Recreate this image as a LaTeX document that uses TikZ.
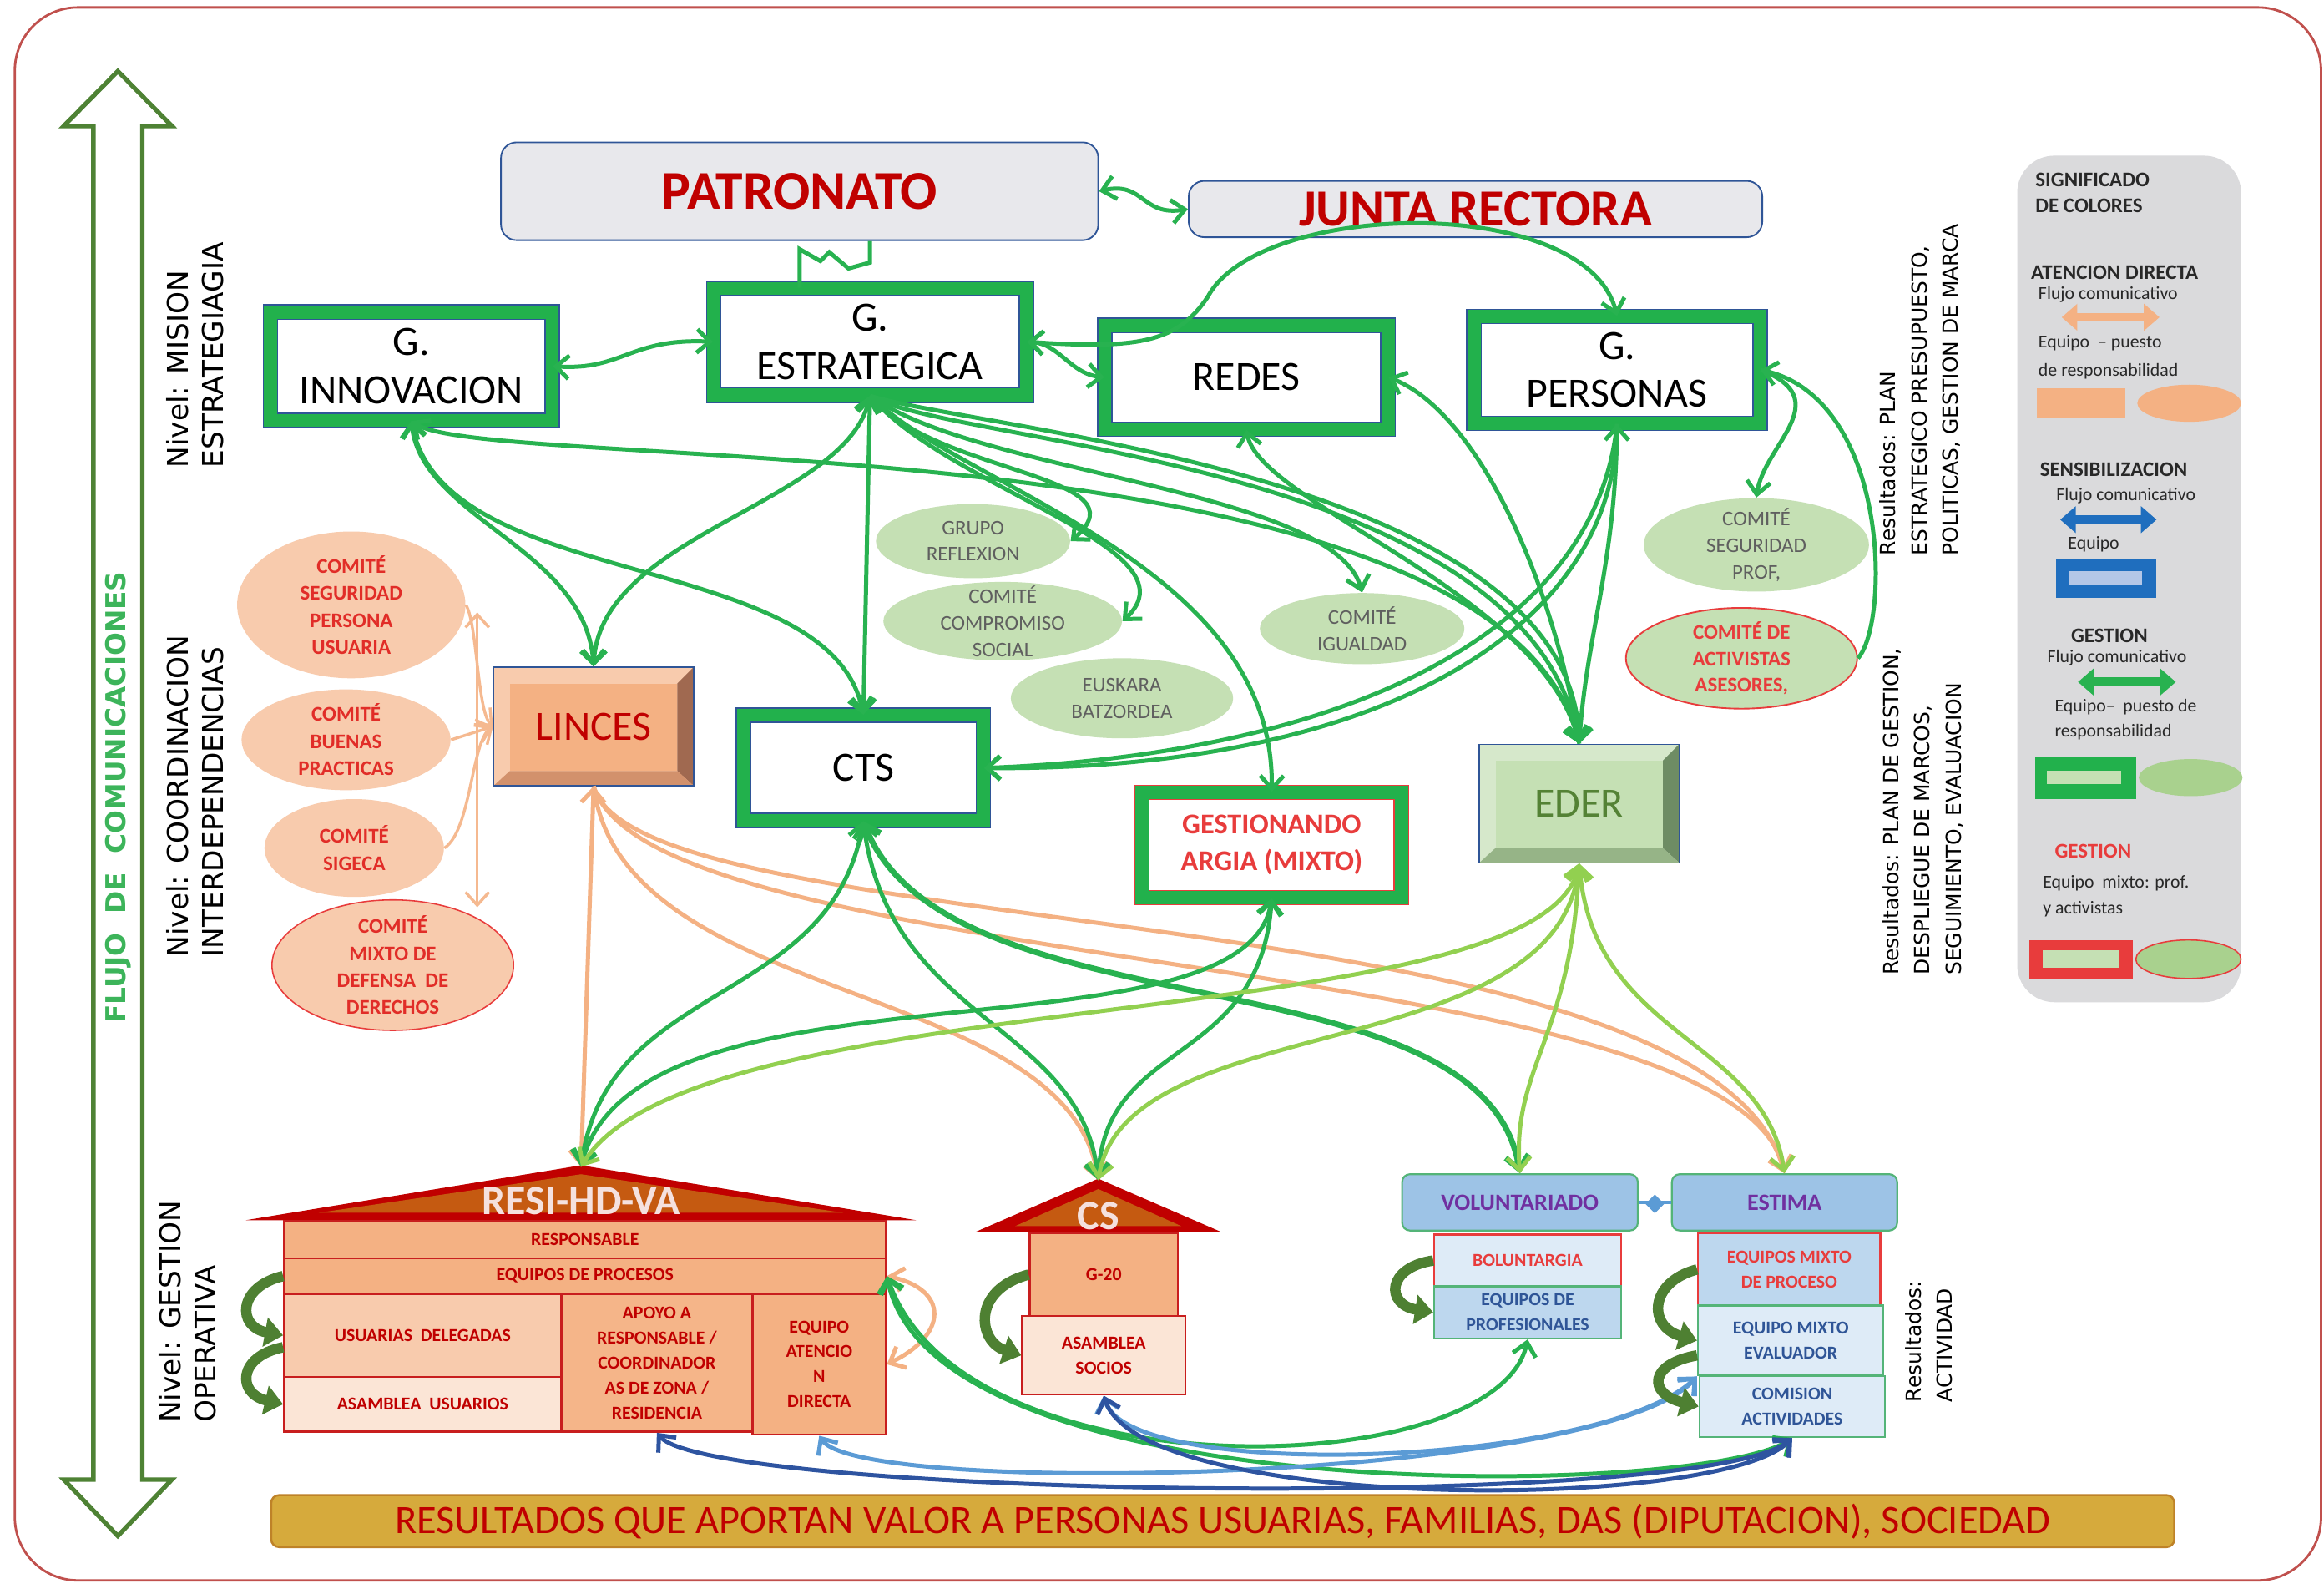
\documentclass[tikz,border=0pt]{standalone}
\usepackage{fontspec}
\setmainfont{Carlito}
\newfontfamily\lvlfont{DejaVu Sans}
\usetikzlibrary{arrows.meta,shapes.geometric,calc}

\definecolor{frameRed}{RGB}{192,80,77}
\definecolor{bandGreen}{RGB}{34,177,76}
\definecolor{boxBlue}{RGB}{47,85,151}
\definecolor{flowGreen}{RGB}{40,178,80}
\definecolor{darkGreen}{RGB}{78,128,50}
\definecolor{bigArrow}{RGB}{78,130,52}
\definecolor{flujoGreen}{RGB}{60,180,90}
\definecolor{titleRed}{RGB}{192,0,0}
\definecolor{topGray}{RGB}{232,232,236}
\definecolor{peach}{RGB}{248,203,173}
\definecolor{peachDark}{RGB}{244,177,131}
\definecolor{peachLight}{RGB}{251,229,214}
\definecolor{comRed}{RGB}{225,45,40}
\definecolor{argiaRed}{RGB}{232,60,60}
\definecolor{leaf}{RGB}{197,224,180}
\definecolor{leafText}{RGB}{95,95,95}
\definecolor{limeArrow}{RGB}{146,208,80}
\definecolor{roofBrown}{RGB}{197,90,17}
\definecolor{roofText}{RGB}{245,225,222}
\definecolor{cellRed}{RGB}{200,30,30}
\definecolor{skyBlue}{RGB}{157,195,230}
\definecolor{headGreen}{RGB}{84,180,120}
\definecolor{paleBlue}{RGB}{222,235,247}
\definecolor{midBlue}{RGB}{189,215,238}
\definecolor{navyText}{RGB}{47,85,151}
\definecolor{purpleT}{RGB}{112,48,160}
\definecolor{gold}{RGB}{214,170,60}
\definecolor{goldEdge}{RGB}{190,130,40}
\definecolor{legendGray}{RGB}{218,218,220}
\definecolor{legText}{RGB}{40,40,40}
\definecolor{legBlue}{RGB}{31,110,190}
\definecolor{legInner}{RGB}{180,199,231}
\definecolor{lineBlue}{RGB}{91,155,213}
\definecolor{deepBlue}{RGB}{46,84,160}
\definecolor{linDark}{RGB}{160,105,80}
\definecolor{linMid}{RGB}{210,145,108}
\definecolor{ederLight}{RGB}{214,232,203}
\definecolor{ederDark}{RGB}{110,140,100}
\definecolor{ederMid}{RGB}{150,180,135}
\definecolor{ederText}{RGB}{84,130,53}
\definecolor{legLeaf}{RGB}{169,209,142}

\newcommand{\upx}{0.02cm}

\tikzset{
  >={Straight Barb[length=5pt,width=9pt]},
  topbox/.style={draw=boxBlue, line width=0.6pt, fill=topGray, rounded corners=6pt, text=titleRed, inner sep=0pt, font=\bfseries\fontsize{21}{24}\selectfont},
  gbox/.style={draw=boxBlue, line width=0.5pt, double=bandGreen, double distance=5pt, fill=white, align=center, inner sep=2pt, font=\fontsize{16}{18.5}\selectfont},
  pcom/.style={ellipse, fill=peach, text=comRed, align=center, inner sep=0pt, font=\bfseries\fontsize{8}{10.4}\selectfont},
  lcom/.style={ellipse, fill=leaf, text=leafText, align=center, inner sep=0pt, inner ysep=-3pt, font=\fontsize{8}{10.2}\selectfont},
  hcell/.style={draw=cellRed, line width=0.8pt, anchor=north west, align=center, inner sep=1pt, text=titleRed, font=\bfseries\fontsize{7}{9.6}\selectfont},
  bhead/.style={draw=headGreen, line width=0.7pt, fill=skyBlue, rounded corners=3pt, text=purpleT, inner sep=0pt, font=\bfseries\fontsize{9}{11}\selectfont},
  bcell/.style={line width=0.8pt, anchor=north west, align=center, inner sep=1pt, font=\bfseries\fontsize{7}{9.5}\selectfont},
  rooftext/.style={text=roofText, font=\bfseries\fontsize{16}{18}\selectfont, inner sep=0pt},
  lvl/.style={rotate=90, anchor=north west, align=left, inner sep=0pt, font=\lvlfont\fontsize{11}{13.5}\selectfont},
  reslbl/.style={rotate=90, anchor=north west, align=left, inner sep=0pt, font=\lvlfont\fontsize{8}{12}\selectfont},
  gflow/.style={draw=flowGreen, line width=1.6pt, ->},
  lflow/.style={draw=limeArrow, line width=1.6pt, ->},
  pflow/.style={draw=peachDark, line width=1.6pt, ->},
  pthin/.style={draw=peachDark!70!peach, line width=1.1pt, ->},
  bflow/.style={draw=deepBlue, line width=1.6pt, ->},
  sflow/.style={draw=lineBlue, line width=1.6pt, ->},
  rarrow/.style={draw=darkGreen, line width=4pt, -{Triangle[length=7pt,width=11pt]}},
  zigline/.style={draw=flowGreen, line width=1.6pt, line join=miter},
  leghead/.style={anchor=west, inner sep=0pt, text=legText, font=\bfseries\fontsize{8}{9}\selectfont},
  legtxt/.style={anchor=west, inner sep=0pt, text=legText, font=\fontsize{7}{8}\selectfont},
  legarrow/.style={line width=3.5pt, {Triangle[length=6pt,width=10pt]}-{Triangle[length=6pt,width=10pt]}},
  banner/.style={fill=gold, draw=goldEdge, line width=0.8pt, rounded corners=3pt, text=titleRed, inner sep=0pt, font=\fontsize{15.5}{18}\selectfont}
}

\begin{document}
\begin{tikzpicture}[x=0.02cm, y=-0.02cm]
\useasboundingbox (0,0) rectangle (1568,1068);
\fill[white] (0,0) rectangle (1568,1068);
\draw[frameRed, line width=0.9pt, rounded corners=0.85cm] (10,5) rectangle (1566,1066);

\draw[bigArrow, line width=1.7pt, fill=white] (79.5,48) -- (116,85) -- (96,85) -- (96,998) -- (116,998) -- (79.5,1036) -- (43,998) -- (63,998) -- (63,85) -- (43,85) -- cycle;
\node[rotate=90, text=flujoGreen, font=\lvlfont\bfseries\fontsize{10.5}{12}\selectfont] (flujo) at (79.5,538) {FLUJO\ \ DE\ \ COMUNICACIONES};

\node[lvl] (lvlMis) at (112,316) {Nivel: MISION\\ESTRATEGIAGIA};
\node[lvl] (lvlCoo) at (112,646) {Nivel: COORDINACION\\INTERDEPENDENCIAS};
\node[lvl] (lvlGes) at (107,960) {Nivel: GESTION\\OPERATIVA};
\node[reslbl] (resA) at (1268,375) {Resultados: PLAN\\ESTRATEGICO PRESUPUESTO,\\POLITICAS, GESTION DE MARCA};
\node[reslbl] (resB) at (1270,658) {Resultados: PLAN DE GESTION,\\DESPLIEGUE DE MARCOS,\\SEGUIMIENTO, EVALUACION};
\node[reslbl] (resC) at (1285,946) {Resultados:\\ACTIVIDAD};

\node[topbox, minimum width=403*\upx, minimum height=66*\upx] (pat) at (539.5,129) {PATRONATO};
\node[topbox, font=\bfseries\fontsize{20}{24}\selectfont, minimum width=387*\upx, minimum height=38*\upx] (junta) at (995.5,141) {JUNTA RECTORA};

\node[gbox, minimum width=190*\upx, minimum height=73*\upx] (innov) at (277.5,247) {G.\\INNOVACION};
\node[gbox, minimum width=211*\upx, minimum height=72*\upx] (gest) at (587,230.5) {G.\\ESTRATEGICA};
\node[gbox, minimum width=191*\upx, minimum height=70*\upx] (redes) at (841,254.5) {REDES};
\node[gbox, minimum width=193*\upx, minimum height=72*\upx] (gpers) at (1091,249.5) {G.\\PERSONAS};
\node[gbox, minimum width=162*\upx, minimum height=71*\upx] (cts) at (582.5,518) {CTS};
\node[gbox, draw=argiaRed, text=argiaRed, font=\bfseries\fontsize{11}{14}\selectfont, minimum width=175*\upx, minimum height=71*\upx] (argia) at (858,570) {GESTIONANDO\\ARGIA (MIXTO)};

\fill[peach] (333,450) rectangle (468,530);
\fill[linDark] (468,450) -- (457,461) -- (457,520) -- (468,530) -- cycle;
\fill[linMid] (333,530) -- (344,520) -- (457,520) -- (468,530) -- cycle;
\fill[peachDark] (344,461) rectangle (457,520);
\draw[boxBlue, line width=0.5pt] (333,450) rectangle (468,530);
\node[minimum width=135*\upx, minimum height=80*\upx, text=titleRed, font=\fontsize{16}{18}\selectfont] (lin) at (400.5,490) {LINCES};

\fill[ederLight] (998,502) rectangle (1133,582);
\fill[ederDark] (1133,502) -- (1122,513) -- (1122,572) -- (1133,582) -- cycle;
\fill[ederMid] (998,582) -- (1009,572) -- (1122,572) -- (1133,582) -- cycle;
\fill[leaf] (1009,513) rectangle (1122,572);
\draw[boxBlue, line width=0.5pt] (998,502) rectangle (1133,582);
\node[minimum width=135*\upx, minimum height=80*\upx, text=ederText, font=\fontsize{16}{18}\selectfont] (eder) at (1065.5,542) {EDER};

\node[pcom, minimum width=154*\upx, minimum height=99*\upx] (segur) at (237,408) {COMITÉ\\SEGURIDAD\\PERSONA\\USUARIA};
\node[pcom, inner ysep=-2pt, minimum width=141*\upx, minimum height=68*\upx] (buenas) at (233.5,499) {COMITÉ\\BUENAS\\PRACTICAS};
\node[pcom, minimum width=121*\upx, minimum height=66*\upx] (sigeca) at (239,572) {COMITÉ\\SIGECA};
\node[pcom, draw=argiaRed, line width=0.5pt, inner ysep=-2pt, minimum width=163*\upx, minimum height=88*\upx] (mixto) at (265,651) {COMITÉ\\MIXTO DE\\DEFENSA\ \ DE\\DERECHOS};

\node[lcom, minimum width=131*\upx, minimum height=50*\upx] (grupo) at (656.5,365) {GRUPO\\REFLEXION};
\node[lcom, inner ysep=-6pt, minimum width=161*\upx, minimum height=53*\upx] (comp) at (676.5,419) {COMITÉ\\COMPROMISO\\SOCIAL};
\node[lcom, minimum width=150*\upx, minimum height=54*\upx] (eusk) at (757,471) {EUSKARA\\BATZORDEA};
\node[lcom, minimum width=138*\upx, minimum height=48*\upx] (igual) at (919,424) {COMITÉ\\IGUALDAD};
\node[lcom, minimum width=152*\upx, minimum height=63*\upx] (segprof) at (1185,367.5) {COMITÉ\\SEGURIDAD\\PROF,};
\node[lcom, draw=argiaRed, line width=0.6pt, text=argiaRed, font=\bfseries\fontsize{8}{10.2}\selectfont, minimum width=156*\upx, minimum height=68*\upx] (activ) at (1175,444) {COMITÉ DE\\ACTIVISTAS\\ASESORES,};

\fill[titleRed] (166,823) -- (392,786) -- (618,823) -- cycle;
\fill[roofBrown] (215,818) -- (392,792) -- (569,818) -- cycle;
\node[rooftext] (resi) at (392,810) {RESI-HD-VA};
\coordinate (resiTop) at (392,787);
\node[hcell, fill=peachDark, minimum width=406*\upx, minimum height=25*\upx] (resp) at (191,823) {RESPONSABLE};
\node[hcell, fill=peachDark, minimum width=406*\upx, minimum height=24*\upx] (eqproc) at (191,848) {EQUIPOS DE PROCESOS};
\node[hcell, fill=peach, minimum width=187*\upx, minimum height=56*\upx] (usuar) at (191,872) {USUARIAS\ \ DELEGADAS};
\node[hcell, fill=peachLight, minimum width=187*\upx, minimum height=37*\upx] (asamU) at (191,928) {ASAMBLEA\ \ USUARIOS};
\node[hcell, fill=peachDark!85!peach, minimum width=129*\upx, minimum height=93*\upx] (apoyo) at (378,872) {APOYO A\\RESPONSABLE /\\COORDINADOR\\AS DE ZONA /\\RESIDENCIA};
\node[hcell, fill=peachDark, minimum width=90*\upx, minimum height=95*\upx] (atenc) at (507,872) {EQUIPO\\ATENCIO\\N\\DIRECTA};

\fill[titleRed] (658,831) -- (741,795) -- (824,831) -- cycle;
\fill[roofBrown] (685,827) -- (741,802) -- (797,827) -- cycle;
\node[rooftext] (cs) at (741,820) {CS};
\coordinate (csTop) at (741,796);
\node[hcell, fill=peachDark, minimum width=100*\upx, minimum height=56*\upx] (g20) at (694,831) {G-20};
\node[hcell, fill=peachLight, minimum width=110*\upx, minimum height=53*\upx] (asamS) at (689,887) {ASAMBLEA\\SOCIOS};

\node[bhead, minimum width=159*\upx, minimum height=38*\upx] (vol) at (1025.5,811) {VOLUNTARIADO};
\node[bhead, minimum width=152*\upx, minimum height=38*\upx] (estima) at (1204,811) {ESTIMA};
\draw[lineBlue, line width=1pt] (vol.east) -- (estima.west);
\node[diamond, fill=lineBlue, minimum size=13*\upx, inner sep=0pt] (dia) at (1116.5,812) {};
\node[bcell, draw=argiaRed, fill=paleBlue, text=argiaRed, minimum width=126*\upx, minimum height=35*\upx] (bolunt) at (967,832) {BOLUNTARGIA};
\node[bcell, draw=headGreen, fill=midBlue, text=navyText, minimum width=126*\upx, minimum height=35*\upx] (prof) at (967,867) {EQUIPOS DE\\PROFESIONALES};
\node[bcell, draw=argiaRed, fill=midBlue, text=argiaRed, minimum width=123*\upx, minimum height=49*\upx] (mixproc) at (1145,831) {EQUIPOS MIXTO\\DE PROCESO};
\node[bcell, draw=headGreen, fill=paleBlue, text=navyText, minimum width=125*\upx, minimum height=47*\upx] (evalu) at (1145,880) {EQUIPO MIXTO\\EVALUADOR};
\node[bcell, draw=headGreen, fill=paleBlue, text=navyText, minimum width=125*\upx, minimum height=41*\upx] (comis) at (1146,927.5) {COMISION\\ACTIVIDADES};

\node[banner, minimum width=1284*\upx, minimum height=35*\upx] (resul) at (825,1026) {RESULTADOS QUE APORTAN VALOR A PERSONAS USUARIAS, FAMILIAS, DAS (DIPUTACION), SOCIEDAD};

\fill[legendGray, rounded corners=0.5cm] (1361,105) rectangle (1512,676);
\node[leghead] (lgA) at (1373,121.5) {SIGNIFICADO};
\node[leghead] (lgB) at (1373,139) {DE COLORES};
\node[leghead] (lgC) at (1370,183.7) {ATENCION DIRECTA};
\node[legtxt] (lgD) at (1375,198.8) {Flujo comunicativo};
\draw[legarrow, peachDark] (1391,214) -- (1457,214);
\node[legtxt] (lgE) at (1375,231.5) {Equipo \ -- puesto};
\node[legtxt] (lgF) at (1375,250.4) {de responsabilidad};
\fill[peachDark] (1374,262) rectangle (1434,282);
\node[ellipse, fill=peachDark, minimum width=70*\upx, minimum height=25*\upx, inner sep=0pt] (lgE1) at (1477,272) {};
\node[leghead] (lgG) at (1376,316.8) {SENSIBILIZACION};
\node[legtxt] (lgH) at (1387,334.6) {Flujo comunicativo};
\draw[legarrow, legBlue] (1390,350.5) -- (1455,350.5);
\node[legtxt] (lgI) at (1395,366.8) {Equipo};
\fill[legBlue] (1387,377) rectangle (1455,403);
\fill[legInner] (1396,385) rectangle (1445,395);
\node[leghead] (lgJ) at (1397,429) {GESTION};
\node[legtxt] (lgK) at (1381,443.6) {Flujo comunicativo};
\draw[legarrow, flowGreen] (1402,460) -- (1468,460);
\node[legtxt] (lgL) at (1386,476.6) {Equipo-- \ puesto de};
\node[legtxt] (lgM) at (1386,493.7) {responsabilidad};
\fill[bandGreen] (1373,511) rectangle (1441,539);
\fill[leaf] (1381,520) rectangle (1431,529);
\node[ellipse, fill=legLeaf, minimum width=70*\upx, minimum height=25*\upx, inner sep=0pt] (lgE2) at (1478,524.5) {};
\node[leghead, text=argiaRed] (lgN) at (1386,574) {GESTION};
\node[legtxt] (lgO) at (1378,596) {Equipo \ mixto: prof.};
\node[legtxt] (lgP) at (1378,613) {y activistas};
\fill[argiaRed] (1369,634) rectangle (1439,660.5);
\fill[leaf] (1378,641) rectangle (1430,653);
\node[ellipse, fill=legLeaf, draw=argiaRed, line width=0.5pt, minimum width=71*\upx, minimum height=26*\upx, inner sep=0pt] (lgE3) at (1476.5,647) {};

\draw[gflow, <->] (pat.east) .. controls (772,122) and (770,146) .. (junta.west);
\draw[zigline] (pat.south |- gest.north) -- ++(0,-26) -- ++(14,8) -- ++(6,-6) -- ++(13,11) -- ++(14.5,-4) -- (pat.south -| gest.north);
\draw[gflow, <->] (innov.east) .. controls (420,250) and (425,228) .. (gest.west);
\draw[gflow, <->] (gest.east) .. controls (715,232) and (722,252) .. (redes.west);
\draw[gflow, <->] (gest.east) .. controls (770,236) and (795,230) .. (815,200) .. controls (850,135) and (1070,130) .. (gpers.north);
\draw[gflow] (eder.north) .. controls (1050,400) and (1000,280) .. (redes.east);
\draw[gflow, <->] (redes.south) .. controls (850,340) and (1040,400) .. (eder.north);
\draw[gflow, <->] (gpers.south) .. controls (1090,380) and (1070,430) .. (eder.north);
\draw[gflow] (gpers.south) .. controls (1090,430) and (920,520) .. (cts.east);
\draw[gflow] (gpers.south) .. controls (1075,440) and (880,510) .. (cts.east);
\draw[gflow] (gpers.east) .. controls (1240,270) and (1190,300) .. (segprof.north);
\draw[gflow] (activ.east) .. controls (1275,420) and (1275,270) .. (gpers.east);

\draw[gflow, <->] (innov.south) .. controls (285,350) and (395,370) .. (lin.north);
\draw[gflow, <->] (gest.south) .. controls (570,340) and (405,360) .. (lin.north);
\draw[gflow, <->] (innov.south) .. controls (300,400) and (560,370) .. (cts.north);
\draw[gflow, <->] (gest.south) -- (cts.north);
\draw[gflow, <->] (innov.south) .. controls (330,320) and (1010,280) .. (eder.north);
\draw[gflow] (gest.south) .. controls (630,320) and (775,320) .. (grupo.east);
\draw[gflow] (gest.south) .. controls (640,330) and (810,370) .. (comp.east);
\draw[gflow] (gest.south) .. controls (660,320) and (900,330) .. (igual.north);
\draw[gflow] (gest.south) .. controls (650,330) and (860,380) .. (argia.north);
\draw[gflow] (gest.south) .. controls (640,300) and (1030,310) .. (eder.north);
\draw[gflow] (gest.south) .. controls (660,290) and (1060,320) .. (eder.north);

\draw[pthin] (segur.east) .. controls (322,420) and (322,480) .. (lin.west);
\draw[pthin] (buenas.east) -- (lin.west);
\draw[pthin] (sigeca.east) .. controls (318,560) and (318,500) .. (lin.west);
\coordinate (barTop) at (322,413);
\coordinate (barBot) at (322,612);
\draw[pthin, <->] (barTop) -- (barBot);

\draw[pflow, <->] (lin.south) -- (resiTop);
\draw[pflow] (lin.south) .. controls (420,680) and (720,660) .. (csTop);
\draw[pflow] (lin.south) .. controls (430,640) and (1150,600) .. (estima.north);
\draw[pflow] (lin.south) .. controls (440,660) and (1170,640) .. (estima.north);
\draw[gflow, <->] (cts.south) .. controls (560,680) and (410,660) .. (resiTop);
\draw[gflow, <->] (cts.south) .. controls (600,690) and (730,690) .. (csTop);
\draw[gflow, <->, line width=2.2pt] (cts.south) .. controls (640,700) and (1000,640) .. (vol.north);
\draw[gflow, <->] (argia.south) .. controls (840,720) and (430,640) .. (resiTop);
\draw[gflow, <->] (argia.south) .. controls (850,720) and (745,700) .. (csTop);
\draw[lflow, <->] (eder.south) .. controls (1040,700) and (470,660) .. (resiTop);
\draw[lflow, <->] (eder.south) .. controls (1050,720) and (760,680) .. (csTop);
\draw[lflow, <->] (eder.south) .. controls (1060,700) and (1020,720) .. (vol.north);
\draw[lflow, <->] (eder.south) .. controls (1075,700) and (1190,700) .. (estima.north);

\draw[pflow, <->] (eqproc.east) .. controls (640,870) and (640,900) .. (atenc.east);
\draw[gflow, <->] (eqproc.east) .. controls (650,1010) and (1010,1000) .. (prof.south);
\draw[gflow, <->] (eqproc.east) .. controls (630,1020) and (1150,1010) .. (comis.south);
\draw[bflow, <->] (comis.south) .. controls (1150,1020) and (480,1010) .. (apoyo.south);
\draw[sflow, <->] (evalu.south west) .. controls (1080,1000) and (580,1010) .. (atenc.south);
\draw[sflow, <->] (asamS.south) .. controls (760,1000) and (1080,990) .. (evalu.south west);
\draw[bflow, <->] (asamS.south) .. controls (770,1020) and (1160,1020) .. (comis.south);

\draw[rarrow] (eqproc.west) .. controls (160,868) and (160,895) .. (usuar.west);
\draw[rarrow] ($(usuar.west)+(0,8)$) .. controls (160,915) and (160,940) .. (asamU.west);
\draw[rarrow] (g20.west) .. controls (655,870) and (660,905) .. (asamS.west);
\draw[rarrow] (bolunt.west) .. controls (935,855) and (935,880) .. (prof.west);
\draw[rarrow] (mixproc.west) .. controls (1112,865) and (1112,895) .. (evalu.west);
\draw[rarrow] ($(evalu.west)+(0,10)$) .. controls (1112,920) and (1112,940) .. (comis.west);
\end{tikzpicture}
\end{document}
